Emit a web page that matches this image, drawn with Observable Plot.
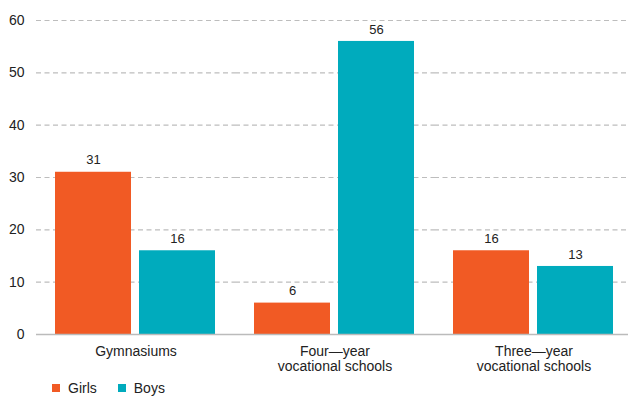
<!DOCTYPE html>
<html>
<head>
<meta charset="utf-8">
<script src="https://cdn.jsdelivr.net/npm/d3@7"></script>
<script src="https://cdn.jsdelivr.net/npm/@observablehq/plot@0.6"></script>
<style>
  body { margin: 0; background: #fff; font-family: Arial, "Liberation Sans", sans-serif; }
  #chart { width: 628px; }
  #chart svg { display: block; }
  #chart svg g[aria-label="y-axis tick label"] text { font-size: 14px; }
  #chart svg g[aria-label="y-axis tick label"] { font-size: 14px; }
  #legend { display: flex; align-items: center; height: 16px; margin-left: 52px; font-size: 14px; color: #222; font-family: Arial, "Liberation Sans", sans-serif; }
  #legend .lg-swatches { margin: 0 !important; min-height: 0 !important; height: 16px; font-size: 14px !important; color: #222; font-family: Arial, "Liberation Sans", sans-serif !important; align-items: center; }
  #legend .lg-swatch { margin-right: 21px !important; }
  #legend .lg-swatch > svg { margin-right: 8px !important; }
</style>
</head>
<body>
<div id="chart"></div>
<script>
const categories = ["Gymnasiums", "Four—year vocational schools", "Three—year vocational schools"];
const categoryLabels = ["Gymnasiums", "Four—year\nvocational schools", "Three—year\nvocational schools"];
const series = ["Girls", "Boys"];
const girls = [31, 6, 16];
const boys = [16, 56, 13];
const yTicks = [0, 10, 20, 30, 40, 50, 60];
const colors = ["#F15A24", "#00ABBD"];

const data = categories.flatMap((c, i) => [
  {category: c, gender: "Girls", value: girls[i]},
  {category: c, gender: "Boys", value: boys[i]}
]);
const labelData = categories.map((c, i) => ({category: c, label: categoryLabels[i]}));

const plot = Plot.plot({
  width: 628,
  height: 380,
  marginTop: 20,
  marginLeft: 36,
  marginRight: -5,
  marginBottom: 46,
  style: {fontFamily: "Arial, 'Liberation Sans', sans-serif", fontSize: "14px", color: "#222", background: "#fff", overflow: "visible"},
  fx: {domain: categories, padding: 0, axis: null, label: null},
  x: {domain: series, axis: null, paddingInner: 0.0941, paddingOuter: 0.2177},
  y: {domain: [0, 60], ticks: yTicks, tickSize: 0, tickPadding: 12, label: null},
  color: {domain: series, range: colors},
  marks: [
    Plot.ruleY(yTicks.filter(d => d > 0), {stroke: "#bdbdbd", strokeWidth: 1.2, strokeDasharray: "5,3.5"}),
    Plot.barY(data, {fx: "category", x: "gender", y: "value", fill: "gender"}),
    Plot.ruleY([0], {stroke: "#bbbbbb", strokeWidth: 1.6}),
    Plot.text(data, {fx: "category", x: "gender", y: "value", text: d => String(d.value), dy: -12, fontSize: 13, fill: "#222"}),
    Plot.text(labelData, {fx: "category", text: "label", frameAnchor: "bottom", lineAnchor: "top", dy: 10, lineHeight: 1.12, fontSize: 14, fill: "#222"})
  ]
});

const legend = Plot.legend({
  color: {domain: series, range: colors},
  swatchSize: 8,
  className: "lg"
});

const root = document.getElementById("chart");
root.appendChild(plot);
const lg = document.createElement("div");
lg.id = "legend";
lg.appendChild(legend);
root.appendChild(lg);
</script>
</body>
</html>
